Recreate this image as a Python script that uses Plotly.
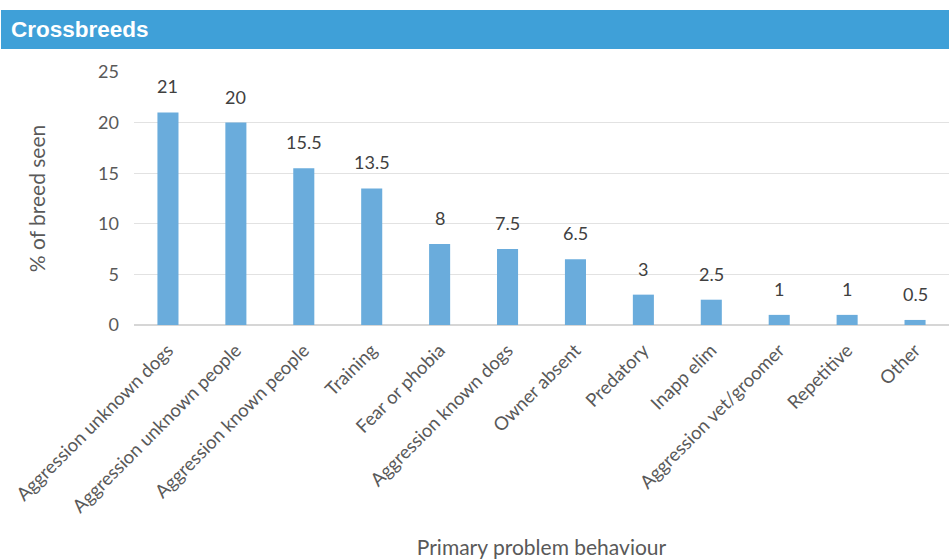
import plotly.graph_objects as go

categories = [
    "Aggression unknown dogs", "Aggression unknown people", "Aggression known people",
    "Training", "Fear or phobia", "Aggression known dogs", "Owner absent",
    "Predatory", "Inapp elim", "Aggression vet/groomer", "Repetitive", "Other",
]
percent_seen = [21, 20, 15.5, 13.5, 8, 7.5, 6.5, 3, 2.5, 1, 1, 0.5]
y_ticks = [0, 5, 10, 15, 20, 25]

W, H = 949, 559
L, R, T, B = 134, 0, 72, 234
plot_w = W - L - R
plot_h = H - T - B

def px_x(p):
    return (p - L) / plot_w

def px_y(p):
    return (H - B - p) / plot_h

font_family = "Lato, 'Open Sans', sans-serif"

fig = go.Figure(
    go.Bar(
        x=categories,
        y=percent_seen,
        marker=dict(color="#6aacdc", line=dict(width=0)),
        hoverinfo="x+y",
    )
)

# value labels above each bar
for cat, val in zip(categories, percent_seen):
    fig.add_annotation(
        x=cat, y=val, text=f"{val:g}", showarrow=False,
        yanchor="bottom", yshift=13,
        font=dict(size=18, color="#404040", family=font_family),
    )

fig.update_layout(
    width=W,
    height=H,
    margin=dict(l=L, r=R, t=T, b=B),
    paper_bgcolor="white",
    plot_bgcolor="white",
    bargap=0.69,
    showlegend=False,
    font=dict(family=font_family, color="#595959"),
    title=dict(
        text="<b>Crossbreeds</b>",
        font=dict(family="'Liberation Sans', Arial, sans-serif", size=22.5, color="white"),
        xref="container", yref="container",
        x=11 / W, y=1 - 29 / H, xanchor="left", yanchor="middle",
    ),
    shapes=[
        dict(
            type="rect", xref="paper", yref="paper", layer="below",
            x0=px_x(1), x1=1.0, y0=px_y(49), y1=px_y(10),
            fillcolor="#3fa0d8", line=dict(width=0),
        )
    ],
    xaxis=dict(
        tickangle=-45,
        tickfont=dict(size=18.5, color="#595959"),
        showgrid=False,
        showline=False,
        ticks="",
        ticklabelstandoff=10,
        title=dict(text="Primary problem behaviour",
                   font=dict(size=21, color="#595959"), standoff=26),
        automargin=False,
    ),
    yaxis=dict(
        range=[0, 25],
        tickvals=y_ticks,
        tickfont=dict(size=18, color="#595959"),
        gridcolor="#e2e2e2",
        gridwidth=1,
        zeroline=True,
        zerolinecolor="#d6d6d6",
        zerolinewidth=1.5,
        ticks="",
        ticklabelstandoff=14,
        title=dict(text="% of breed seen",
                   font=dict(size=21, color="#595959"), standoff=46),
        automargin=False,
    ),
)

fig.write_html("out.html")
